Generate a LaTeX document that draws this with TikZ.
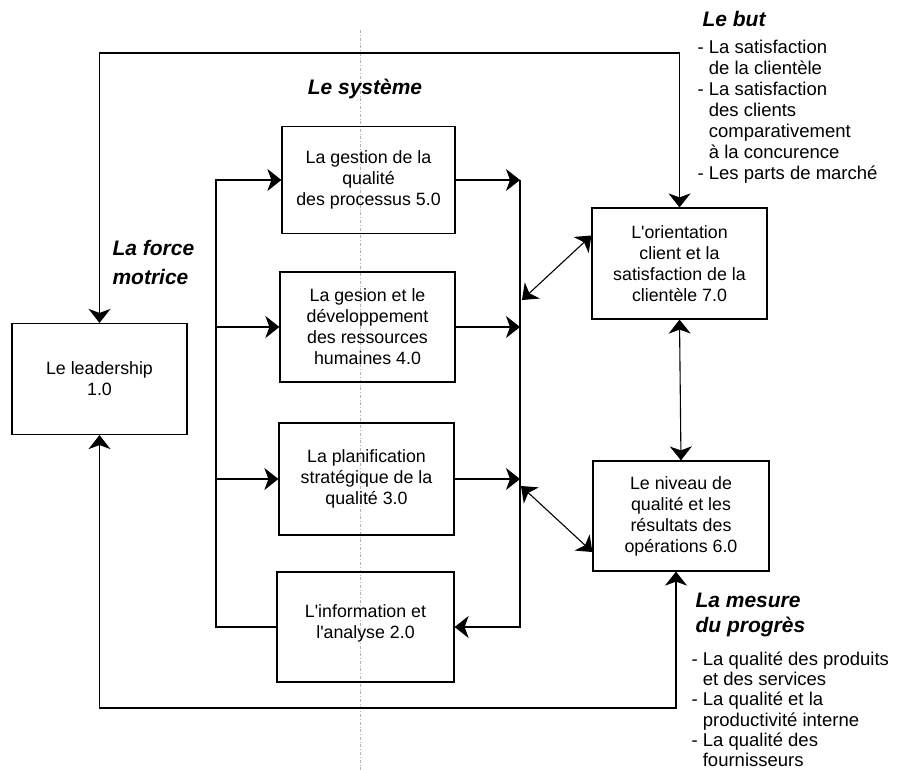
\documentclass[tikz,border=0pt]{standalone}
\usepackage{fontspec}
\setmainfont{Liberation Sans}
\usetikzlibrary{arrows.meta}
\newcommand{\ap}{\textquotesingle}
\begin{document}
\begin{tikzpicture}[x=1pt,y=-1pt,
  line width=1.1pt,
  arr/.style={-{Stealth[length=14pt,width=22pt,inset=4pt]}},
  arrtwo/.style={{Stealth[length=14pt,width=22pt,inset=4pt]}-{Stealth[length=14pt,width=22pt,inset=4pt]}},
  box/.style={draw,line width=1.2pt,align=center,inner sep=2pt,
    font=\fontsize{17.8}{21}\selectfont},
  head/.style={font=\fontsize{21}{29}\selectfont\bfseries\itshape,inner sep=0pt,align=left},
  list/.style={font=\fontsize{18.5}{21}\selectfont,inner sep=0pt,align=left}]
\useasboundingbox (0,0) rectangle (898,770);

% faint fold line
\draw[gray!60,line width=0.6pt,dash dot] (360,30) -- (360,770);

% boxes
\node[box,minimum width=175pt,minimum height=111pt] (lead) at (99.5,379) {Le leadership\\1.0};
\node[box,minimum width=173pt,minimum height=107pt] (b5) at (368.5,180) {La gestion de la\\qualité\\des processus 5.0};
\node[box,minimum width=175pt,minimum height=110pt] (b4) at (367.5,327) {La gesion et le\\développement\\des ressources\\humaines 4.0};
\node[box,minimum width=175pt,minimum height=112pt] (b3) at (366.5,479) {La planification\\stratégique de la\\qualité 3.0};
\node[box,minimum width=177pt,minimum height=110pt] (b2) at (365.5,627) {L\ap information et\\l\ap analyse 2.0\\[-10pt]\mbox{}};
\node[box,minimum width=175pt,minimum height=111pt] (b7) at (679.5,263.5) {L\ap orientation\\client et la\\satisfaction de la\\clientèle 7.0};
\node[box,minimum width=176pt,minimum height=110pt] (b6) at (681,516) {Le niveau de\\qualité et les\\résultats des\\opérations 6.0};

% bus coordinates
\coordinate (tl) at (102,53);
\coordinate (bl) at (99.5,708);
\coordinate (lbus) at (216,0);
\coordinate (rbus) at (520,0);
\coordinate (d1) at (522,300);
\coordinate (d2) at (521,486);

% outer loops
\draw[arrtwo] (lead.north) -- (lead.north |- tl) -| (b7.north);
\draw[arrtwo] (lead.south) -- (lead.south |- bl) -| ([xshift=-5pt]b6.south);

% left distribution bus
\draw[arr] (b2.west) -| (lbus |- b5.west) -- (b5.west);
\draw[arr] (lbus |- b4.west) -- (b4.west);
\draw[arr] (lbus |- b3.west) -- (b3.west);

% right collecting bus
\draw[arr] (b5.east) -- (rbus |- b5.east);
\draw[arr] (b4.east) -- (rbus |- b4.east);
\draw[arr] (b3.east) -- (rbus |- b3.east);
\draw[arr] (rbus |- b5.east) |- (b2.east);

% links to results
\draw[arrtwo] (d1) -- ([yshift=28pt]b7.west);
\draw[arrtwo] (d2) -- ([yshift=-36pt]b6.west);
\draw[arrtwo] (b7.south) -- (b6.north);

% headings
\node[head,anchor=center] (sys) at (365,89) {Le système};
\node[head,anchor=north west] (force) at (112,240) {La force\\motrice};
\node[head,anchor=north west] (but) at (702,11) {Le but};
\node[head,anchor=north west,font=\fontsize{21}{25}\selectfont\bfseries\itshape] (mes) at (695,593) {La mesure\\du progrès};

% lists
\node[list,anchor=north west] (butl) at (697,40) {- La satisfaction\\\phantom{- }de la clientèle\\- La satisfaction\\\phantom{- }des clients\\\phantom{- }comparativement\\\phantom{- }à la concurence\\- Les parts de marché};
\node[list,anchor=north west,font=\fontsize{18.5}{20.3}\selectfont] (mesl) at (691,651) {- La qualité des produits\\\phantom{- }et des services\\- La qualité et la\\\phantom{- }productivité interne\\- La qualité des\\\phantom{- }fournisseurs};
\end{tikzpicture}
\end{document}
